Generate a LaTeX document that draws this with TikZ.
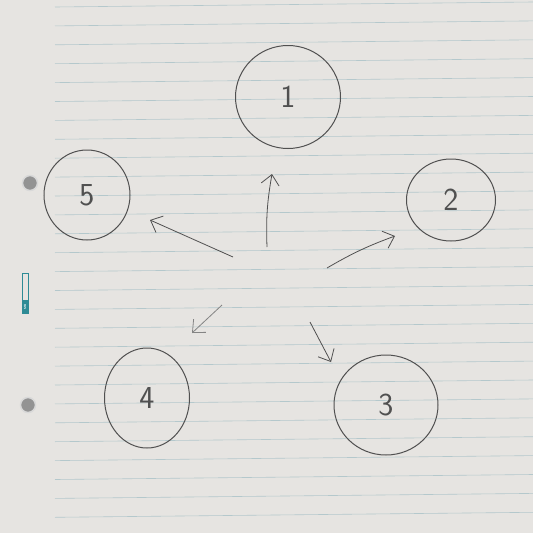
\documentclass[tikz,border=0pt]{standalone}
\usetikzlibrary{shapes.geometric,arrows.meta}
\definecolor{paper}{HTML}{E6E4E1}
\definecolor{rule}{HTML}{B4C8CC}
\definecolor{pencil}{HTML}{505050}
\definecolor{teal}{HTML}{2E8B95}
\tikzset{
  numcircle/.style={ellipse, draw=pencil, line width=1pt, inner sep=0pt,
    font=\fontsize{32}{32}\selectfont\sffamily, text=pencil},
  sketcharrow/.style={draw=pencil, line width=0.8pt,
    -{Straight Barb[length=10pt,width=18pt,line width=0.8pt]}},
  hole/.style={circle, fill=gray!85, draw=gray!30, line width=1.5pt, minimum size=15pt, inner sep=0pt},
}
\begin{document}
\begin{tikzpicture}[x=1pt,y=-1pt]
\useasboundingbox (0,0) rectangle (533,533);
\fill[paper] (0,0) rectangle (533,533);
% ruled lines
\foreach \k in {0,...,27} {
  \draw[rule, line width=0.6pt] (55,{7+18.9*\k}) -- (533,{2+18.9*\k});
}
% punched holes
\node[hole] (h1) at (30,183) {};
\node[hole] (h2) at (28,405) {};
% logo
\draw[teal, line width=0.5pt] (22,273) rectangle (28,313);
\fill[teal] (22,300) rectangle (28,313);
\node[rotate=90, font=\fontsize{3}{3}\selectfont\sffamily\bfseries, text=white] (logo) at (25,306.5) {MB};
% circles
\node[numcircle, minimum width=105pt, minimum height=103pt] (c1) at (288,97) {1};
\node[numcircle, minimum width=89pt, minimum height=82pt] (c2) at (451,200) {2};
\node[numcircle, minimum width=104pt, minimum height=100pt] (c3) at (386,405) {3};
\node[numcircle, minimum width=85pt, minimum height=100pt] (c4) at (147,398) {4};
\node[numcircle, minimum width=86pt, minimum height=90pt] (c5) at (87,195) {5};
% arrow end points
\coordinate (s1) at (267,247); \coordinate (e1) at (272,174);
\coordinate (s5) at (233,257); \coordinate (e5) at (150,220);
\coordinate (s2) at (327,268); \coordinate (e2) at (395,236);
\coordinate (s4) at (222,305); \coordinate (e4) at (192,333);
\coordinate (s3) at (310,322); \coordinate (e3) at (331,362);
\draw[sketcharrow] (s1) to[bend left=6] (e1);
\draw[sketcharrow] (s5) -- (e5);
\draw[sketcharrow] (s2) to[bend left=5] (e2);
\draw[sketcharrow, draw=pencil!70] (s4) -- (e4);
\draw[sketcharrow] (s3) -- (e3);
\end{tikzpicture}
\end{document}
